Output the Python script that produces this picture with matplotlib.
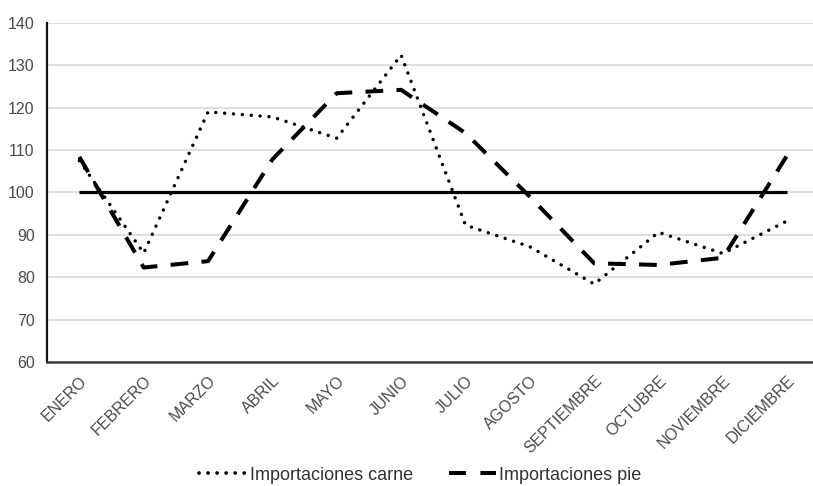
import matplotlib
matplotlib.use("Agg")
import matplotlib.pyplot as plt
from matplotlib.lines import Line2D

meses = ["ENERO", "FEBRERO", "MARZO", "ABRIL", "MAYO", "JUNIO", "JULIO",
         "AGOSTO", "SEPTIEMBRE", "OCTUBRE", "NOVIEMBRE", "DICIEMBRE"]
carne = [107.5, 85.7, 119.0, 117.8, 112.8, 132.4, 92.3, 87.2, 78.4, 90.6, 85.6, 93.3]
pie = [108.4, 82.3, 83.8, 107.8, 123.4, 124.2, 114.0, 99.0, 83.3, 82.9, 84.6, 108.8]
base = [100] * 12
yticks = [60, 70, 80, 90, 100, 110, 120, 130, 140]

plt.rcParams['font.family'] = ['Liberation Sans', 'DejaVu Sans']

fig = plt.figure(figsize=(8.13, 4.86), dpi=100)
ax = fig.add_axes([0.058, 0.255, 0.942, 0.698])

x = list(range(len(meses)))
ax.plot(x, base, color='black', lw=2.3, solid_capstyle='butt', zorder=3)
ax.plot(x, carne, color='black', lw=2.5, linestyle=(0, (0.01, 2.55)),
        dash_capstyle='round', zorder=4)
ax.plot(x, pie, color='black', lw=2.9, linestyle=(0, (4.4, 3.3)),
        dash_capstyle='butt', zorder=4)

ax.set_ylim(60, 140)
ax.set_yticks(yticks)
ax.set_xlim(-0.5, 11.4)
ax.set_xticks(x)
ax.set_xticklabels(meses, rotation=45, ha='right', rotation_mode='anchor',
                   fontsize=11.5, color='#4a4a4a')
ax.tick_params(axis='y', labelsize=11.5, colors='#4a4a4a', length=0, pad=9)
ax.tick_params(axis='x', length=0, pad=8)
ax.yaxis.grid(True, color='#d9d9d9', lw=1.2)
ax.set_axisbelow(True)
for s in ['top', 'right']:
    ax.spines[s].set_visible(False)
ax.spines['left'].set_linewidth(1.6)
ax.spines['left'].set_color('#111111')
ax.spines['bottom'].set_linewidth(1.8)
ax.spines['bottom'].set_color('#3a3a3a')

handles = [
    Line2D([], [], color='black', lw=2.7, linestyle=(0, (0.01, 2.4)), dash_capstyle='round'),
    Line2D([], [], color='black', lw=2.9, linestyle=(0, (4.2, 3.6)), dash_capstyle='butt'),
]
fig.legend(handles, ["Importaciones carne", "Importaciones pie"],
           loc='center', bbox_to_anchor=(0.517, 0.022), ncol=2, frameon=False,
           fontsize=13, handlelength=2.6, handletextpad=0.2, columnspacing=2.0,
           labelcolor='#333333')

fig.savefig("out.png", dpi=100)
